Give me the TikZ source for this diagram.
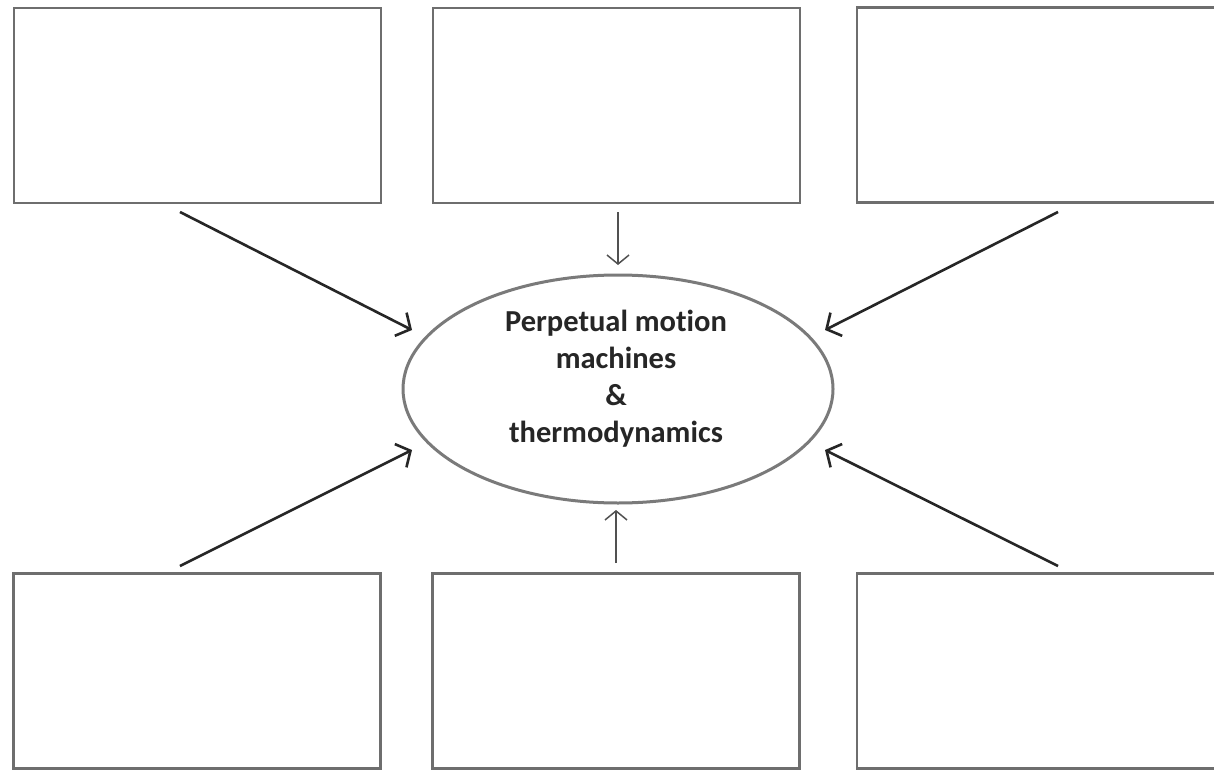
\documentclass[tikz,border=0pt]{standalone}
\usepackage{fontspec}
\setmainfont[Ligatures=NoCommon]{Carlito}
\usetikzlibrary{arrows.meta,shapes.geometric}
\definecolor{boxgray}{HTML}{6E6E6E}
\definecolor{ellgray}{HTML}{7A7A7A}
\definecolor{arrdark}{HTML}{262626}
\begin{document}
\begin{tikzpicture}[x=1pt,y=-1pt,
  box/.style={draw=boxgray, line width=2.6pt, minimum width=367pt, minimum height=195pt, inner sep=0pt},
  bigarrow/.style={draw=arrdark, line width=2.6pt, -{Straight Barb[length=11pt,width=26pt,line width=2.6pt]}},
  smallarrow/.style={draw=arrdark!80, line width=1.5pt, -{Straight Barb[length=9pt,width=22pt,line width=1.5pt]}},
  hub/.style={ellipse, draw=ellgray, line width=3pt, minimum width=430pt, minimum height=228pt, inner sep=0pt},
  hubtext/.style={align=center, inner sep=0pt, font=\fontsize{30.5pt}{37pt}\selectfont\bfseries, text=black!85}]
\path[use as bounding box, clip] (0,0) rectangle (1214,770);
\fill[white] (0,0) rectangle (1214,770);

\node[box] (tl) at (197.5,105.5) {};
\node[box] (tm) at (616.5,105.5) {};
\node[box] (tr) at (1040.5,105) {};
\node[box] (bl) at (197,671) {};
\node[box] (bm) at (616,671) {};
\node[box] (br) at (1040.5,671) {};

\node[hub] (hub) at (618,389) {};
\node[hubtext] (label) at (616,379) {Perpetual motion\\machines\\\&\\thermodynamics};

\coordinate (s1) at (180,212);
\coordinate (e1) at (412,330);
\coordinate (s2) at (618,212);
\coordinate (e2) at (618,265);
\coordinate (s3) at (1058,212);
\coordinate (e3) at (825,330);
\coordinate (s4) at (180,566);
\coordinate (e4) at (412,450);
\coordinate (s5) at (616,563);
\coordinate (e5) at (616,510);
\coordinate (s6) at (1058,566);
\coordinate (e6) at (825,450);

\draw[bigarrow] (s1) -- (e1);
\draw[smallarrow] (s2) -- (e2);
\draw[bigarrow] (s3) -- (e3);
\draw[bigarrow] (s4) -- (e4);
\draw[smallarrow] (s5) -- (e5);
\draw[bigarrow] (s6) -- (e6);
\end{tikzpicture}
\end{document}
